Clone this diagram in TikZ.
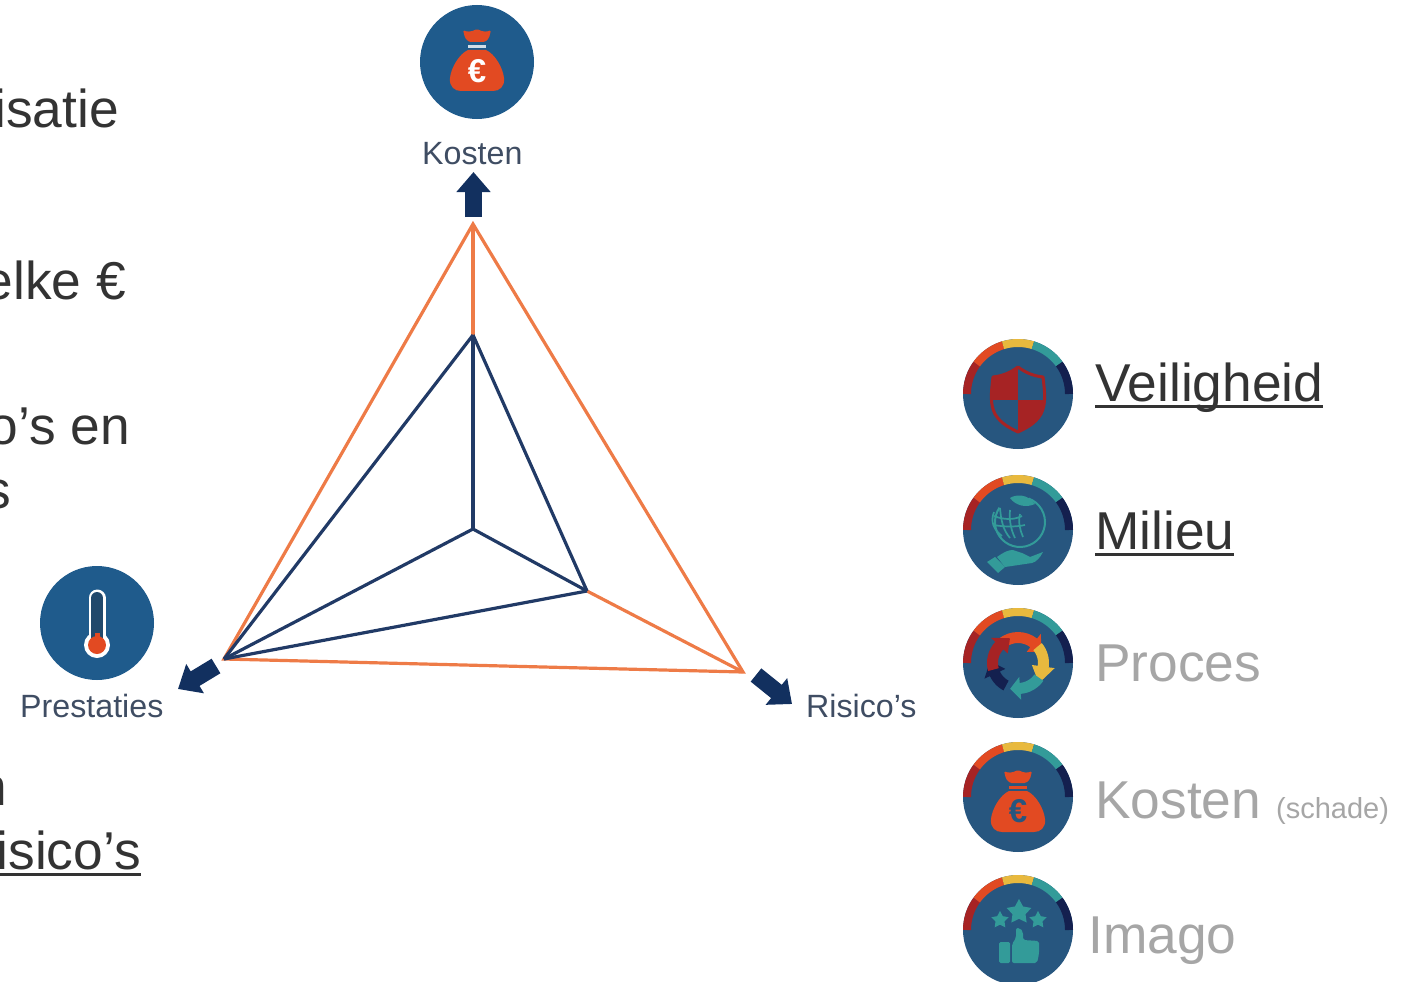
\documentclass[tikz,border=0pt]{standalone}
\usepackage{fontspec}
\setmainfont{Liberation Sans}
\usetikzlibrary{arrows.meta,shapes.geometric}
\definecolor{icoblue}{HTML}{27567F}
\definecolor{topblue}{HTML}{1F5B8C}
\definecolor{ired}{HTML}{A62324}
\definecolor{iorange}{HTML}{E24A22}
\definecolor{iyellow}{HTML}{E8B93E}
\definecolor{iteal}{HTML}{339B99}
\definecolor{inavy}{HTML}{14204F}
\definecolor{triorange}{HTML}{EE7B47}
\definecolor{trinavy}{HTML}{213A66}
\definecolor{arrownavy}{HTML}{12305F}
\definecolor{bodytext}{HTML}{333333}
\definecolor{mutedtext}{HTML}{A6A6A6}
\definecolor{labeltext}{HTML}{3F4D63}
\newcommand\fsz[1]{\fontsize{#1}{#1}\selectfont}
\newcommand\myul[1]{\setbox0=\hbox{#1}\makebox[0pt][l]{\raisebox{-7pt}{\rule{\wd0}{3pt}}}\box0}
\newcommand\ringseg[3]{\draw[#1,line width=8pt] plot[domain=#2:#3,samples=14] ({51*cos(\x)},{-51*sin(\x)});}
\newcommand\ringall{%
  \ringseg{ired}{180}{144}\ringseg{iorange}{144}{107}\ringseg{iyellow}{107}{73}%
  \ringseg{iteal}{73}{36}\ringseg{inavy}{36}{0}}
\newcommand\procarrow[5]{\fill[#1] plot[domain=#2:#3,samples=9] ({20*cos(\x)},{-20*sin(\x)}) -- ({14*cos(#3)},{-14*sin(#3)}) -- ({#5*cos(#4)},{-#5*sin(#4)}) -- ({37*cos(#3)},{-37*sin(#3)}) -- plot[domain=#3:#2,samples=9] ({31*cos(\x)},{-31*sin(\x)}) -- cycle;}
\newcommand\moneybag[3]{%
  \fill[#1,rounded corners=1.5pt] (-14,-26) .. controls (-10,-24) and (-6,-24) .. (0,-27) .. controls (6,-24) and (10,-24) .. (14,-26) -- (12,-18) -- (8,-14) -- (-8,-14) -- (-12,-18) -- cycle;
  \fill[#2] (-9,-11) rectangle (9,-8);
  \fill[#1] (-9,-6) -- (9,-6) .. controls (18,-2) and (26,12) .. (27,22) .. controls (28,31) and (22,35) .. (16,35) -- (-16,35) .. controls (-22,35) and (-28,31) .. (-27,22) .. controls (-26,12) and (-18,-2) .. (-9,-6) -- cycle;
}
\tikzset{
  tri/.style={line width=3.2pt,line join=miter},
  triout/.style={tri,triorange},
  triin/.style={tri,trinavy},
  bigarrow/.style={arrownavy,line width=17pt,-{Triangle[length=20pt,width=33pt]}},
  body/.style={inner sep=0pt,text=bodytext,font=\fsz{53.3}},
  bodyeast/.style={body,anchor=base east},
  legend/.style={body,anchor=base west},
  muted/.style={legend,text=mutedtext},
  axlabel/.style={inner sep=0pt,anchor=base west,text=labeltext,font=\fsz{32.2}},
  iconbase/.style={circle,fill=icoblue,minimum size=110pt,inner sep=0pt},
  topbase/.style={circle,fill=topblue,minimum size=114pt,inner sep=0pt},
  staricon/.style={star,star points=5,star point ratio=1.9,fill=iteal,inner sep=0pt},
}
\begin{document}
\begin{tikzpicture}[x=1pt,y=-1pt]
\useasboundingbox (0,0) rectangle (1406,982);
% left, cut-off text
\node[bodyeast] (t1) at (119,128) {isatie};
\node[bodyeast] (t2) at (126,299) {elke €};
\node[bodyeast] (t3) at (130,444) {o’s en};
\node[bodyeast] (t4) at (11,508) {s};
\node[bodyeast] (t5) at (7,805) {n};
\node[bodyeast] (t6) at (141,869) {\myul{isico’s}};
% triangle
\coordinate (A) at (473,224);
\coordinate (B) at (743,672);
\coordinate (C) at (224,659);
\coordinate (I) at (473,335);
\coordinate (M) at (473,529);
\coordinate (R) at (587,591);
\draw[triout] (A) -- (B) -- (C) -- cycle;
\draw[triout] (A) -- (I);
\draw[triout] (R) -- (B);
\draw[triin] (I) -- (M);
\draw[triin] (I) -- (C);
\draw[triin] (I) -- (R);
\draw[triin] (M) -- (C);
\draw[triin] (M) -- (R);
\draw[triin] (R) -- (C);
% axis arrows
\coordinate (upfrom) at (473.5,217); \coordinate (upto) at (473.5,172);
\coordinate (lfrom) at (216,666); \coordinate (lto) at (178,689);
\coordinate (rfrom) at (756,675); \coordinate (rto) at (792,704);
\draw[bigarrow] (upfrom) -- (upto);
\draw[bigarrow] (lfrom) -- (lto);
\draw[bigarrow] (rfrom) -- (rto);
% axis labels
\node[axlabel] (lk) at (422,164) {Kosten};
\node[axlabel] (lp) at (20,717) {Prestaties};
\node[axlabel] (lr) at (806,717) {Risico’s};
% top icon
\node[topbase] (kostenicon) at (477,62) {};
\begin{scope}[shift={(477,56)}]
  \moneybag{iorange}{white!80!topblue}{white}
  \node[inner sep=0pt,text=white,font=\fsz{33}\bfseries] (eu0) at (0,15) {€};
\end{scope}
% thermometer
\node[topbase] (presticon) at (97,623) {};
\begin{scope}[shift={(97,623)}]
  \draw[white,line width=17pt,line cap=round] (0,-25) -- (0,20);
  \fill[white] (0,22) circle (13);
  \draw[icoblue!85!black,line width=12pt,line cap=round] (0,-25) -- (0,20);
  \fill[iorange] (0,22) circle (9);
  \fill[iorange] (-2.5,10) rectangle (2.5,20);
\end{scope}
% legend: Veiligheid
\node[iconbase] (ic1) at (1018,394) {};
\begin{scope}[shift={(1018,394)}]
  \ringall
  \def\shieldpath{(0,-27) .. controls (8,-21) and (16,-18) .. (25,-17) .. controls (27,0) and (28,10) .. (23,20) .. controls (17,30) and (8,34) .. (0,38) .. controls (-8,34) and (-17,30) .. (-23,20) .. controls (-28,10) and (-27,0) .. (-25,-17) .. controls (-16,-18) and (-8,-21) .. (0,-27) -- cycle}
  \begin{scope}
    \clip \shieldpath;
    \fill[ired] (-30,-30) rectangle (0,6);
    \fill[ired] (0,6) rectangle (30,40);
  \end{scope}
  \draw[ired,line width=3pt,line join=round] \shieldpath;
\end{scope}
\node[legend] (v) at (1095,401) {\myul{Veiligheid}};
% legend: Milieu
\node[iconbase] (ic2) at (1018,530) {};
\begin{scope}[shift={(1018,530)}]
  \ringall
  \draw[iteal,line width=2pt] plot[domain=70:-215,samples=30] ({2+25*cos(\x)},{-8-25*sin(\x)});
  \fill[iteal] (-8,-32) .. controls (-2,-36) and (10,-36) .. (17,-26) .. controls (8,-22) and (-2,-24) .. (-8,-32) -- cycle;
  \draw[iteal,line width=1.7pt] (-24,-14) .. controls (-14,-10) and (-4,-10) .. (4,-14);
  \draw[iteal,line width=1.7pt] (-24,-5) .. controls (-14,-3) and (-2,-3) .. (7,-5);
  \draw[iteal,line width=1.7pt] (-24,-18) .. controls (-28,-8) and (-24,0) .. (-16,6);
  \draw[iteal,line width=1.7pt] (-18,-22) .. controls (-17,-10) and (-15,0) .. (-8,8);
  \draw[iteal,line width=1.7pt] (-8,-20) .. controls (-9,-10) and (-7,0) .. (-3,8);
  \draw[iteal,line width=1.7pt] (2,-16) .. controls (0,-8) and (2,0) .. (5,7);
  \fill[iteal] (-21,27) .. controls (-14,22) and (-10,20) .. (-5,20) -- (4,23) -- (12,27) -- (25,22) .. controls (22,28) and (18,32) .. (14,33) -- (-13,37) -- cycle;
  \fill[iteal] (-31,32) -- (-23,27) -- (-13,37) -- (-20,43) -- cycle;
\end{scope}
\node[legend] (m) at (1095,549) {\myul{Milieu}};
% legend: Proces
\node[iconbase] (ic3) at (1018,663) {};
\begin{scope}[shift={(1018,663)}]
  \ringall
  \procarrow{iorange}{128}{52}{25}{26}
  \procarrow{iyellow}{40}{-8}{-44}{29}
  \procarrow{iteal}{-35}{-85}{-107}{27}
  \procarrow{inavy}{-118}{-155}{-184}{28}
  \procarrow{ired}{195}{137}{108}{26}
\end{scope}
\node[muted] (p) at (1095,681) {Proces};
% legend: Kosten
\node[iconbase] (ic4) at (1018,797) {};
\begin{scope}[shift={(1018,797)}]
  \ringall
  \moneybag{iorange}{iorange}{icoblue}
  \node[inner sep=0pt,text=icoblue,font=\fsz{33}\bfseries] (eu4) at (0,14) {€};
\end{scope}
\node[muted] (k) at (1095,818) {Kosten};
\node[muted,font=\fsz{29}] (ks) at (1276,818) {(schade)};
% legend: Imago
\node[iconbase] (ic5) at (1018,930) {};
\begin{scope}[shift={(1018,930)}]
  \ringall
  \node[staricon,minimum size=26pt] (s1) at (1,-18) {};
  \node[staricon,minimum size=18pt] (s2) at (-18,-10) {};
  \node[staricon,minimum size=18pt] (s3) at (20,-10) {};
  \fill[iteal,rounded corners=1.5pt] (-19,12) rectangle (-8,33);
  \fill[iteal,rounded corners=2pt] (-6,14) -- (-2,8) -- (-2,-2) -- (2,-2) -- (5,2) -- (5,10) -- (21,11) -- (21,24) -- (19,33) -- (-6,33) -- cycle;
\end{scope}
\node[muted] (i) at (1088,953) {Imago};
\end{tikzpicture}
\end{document}
